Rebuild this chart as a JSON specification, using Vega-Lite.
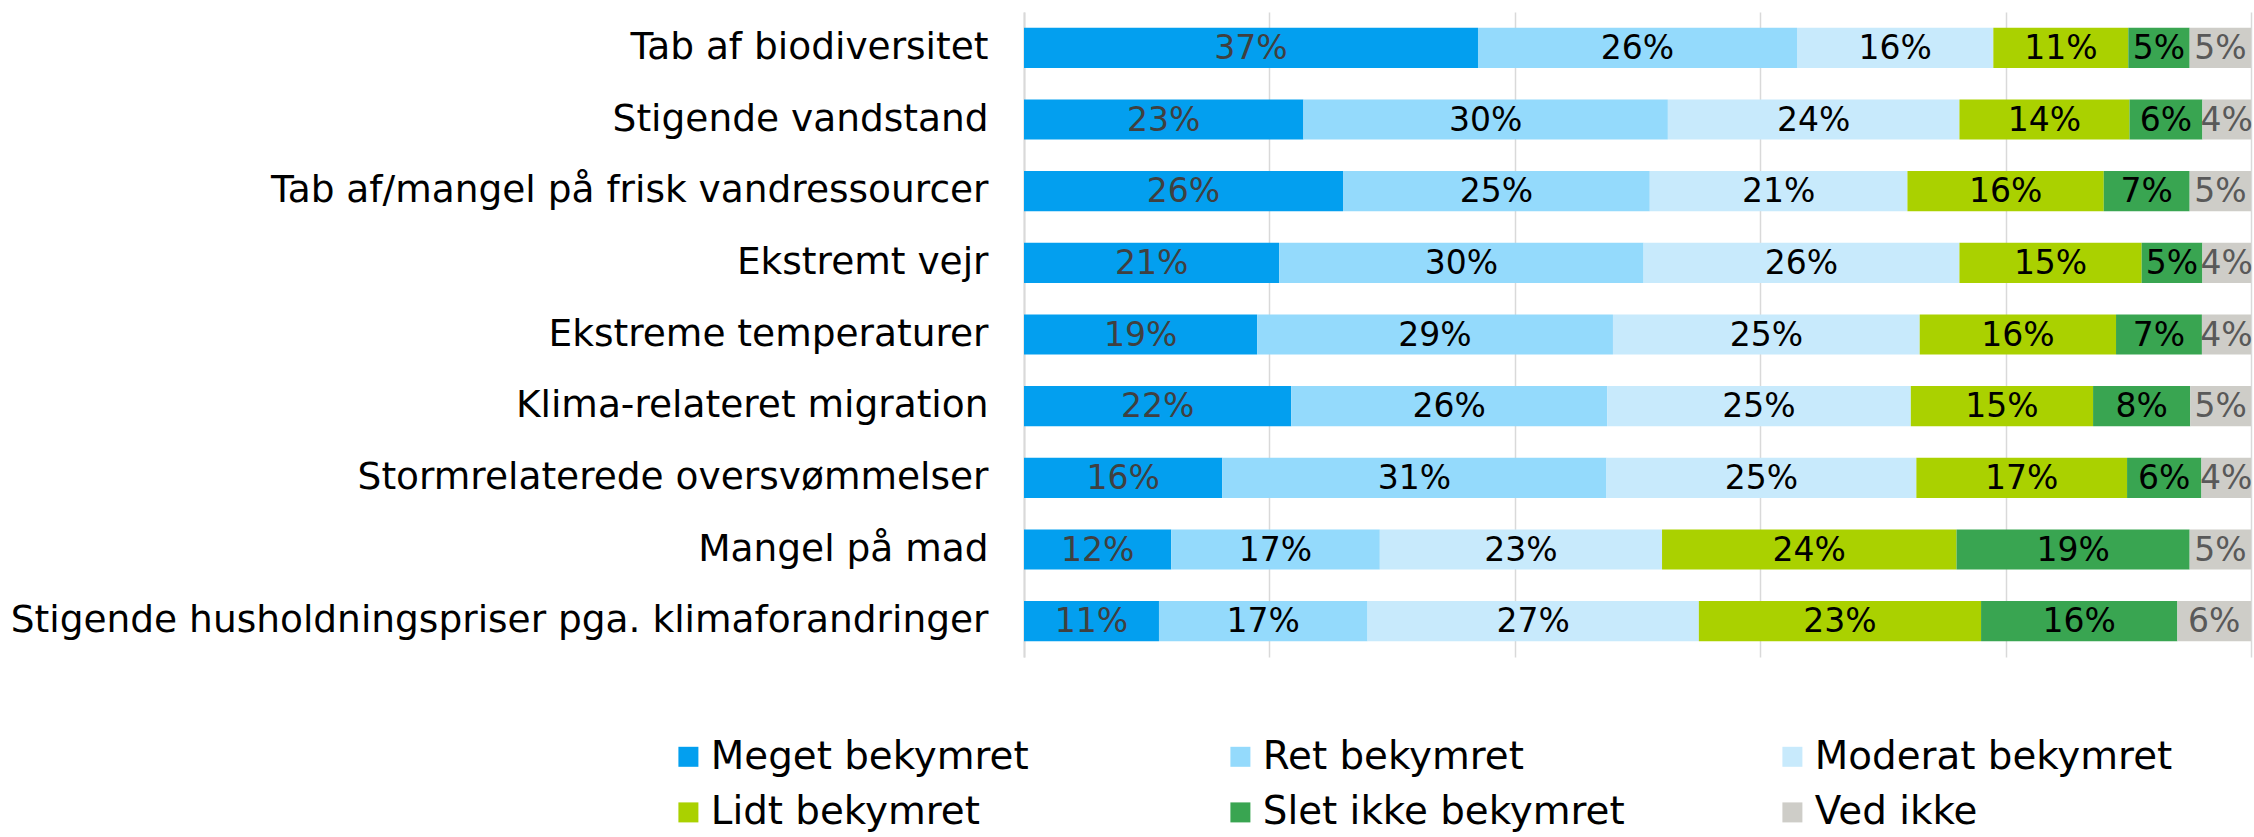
{
  "$schema": "https://vega.github.io/schema/vega-lite/v6.json",
  "autosize": {"type": "none"},
  "padding": {"left": 1024, "top": 12, "right": 3, "bottom": 180},
  "width": 1227,
  "height": 645,
  "config": {
    "view": {"stroke": null},
    "font": "DejaVu Sans"
  },
  "data": {
    "values": [
      {"item": "Tab af biodiversitet", "cat": "Meget bekymret", "v": 37},
      {"item": "Tab af biodiversitet", "cat": "Ret bekymret", "v": 26},
      {"item": "Tab af biodiversitet", "cat": "Moderat bekymret", "v": 16},
      {"item": "Tab af biodiversitet", "cat": "Lidt bekymret", "v": 11},
      {"item": "Tab af biodiversitet", "cat": "Slet ikke bekymret", "v": 5},
      {"item": "Tab af biodiversitet", "cat": "Ved ikke", "v": 5},
      {"item": "Stigende vandstand", "cat": "Meget bekymret", "v": 23},
      {"item": "Stigende vandstand", "cat": "Ret bekymret", "v": 30},
      {"item": "Stigende vandstand", "cat": "Moderat bekymret", "v": 24},
      {"item": "Stigende vandstand", "cat": "Lidt bekymret", "v": 14},
      {"item": "Stigende vandstand", "cat": "Slet ikke bekymret", "v": 6},
      {"item": "Stigende vandstand", "cat": "Ved ikke", "v": 4},
      {"item": "Tab af/mangel på frisk vandressourcer", "cat": "Meget bekymret", "v": 26},
      {"item": "Tab af/mangel på frisk vandressourcer", "cat": "Ret bekymret", "v": 25},
      {"item": "Tab af/mangel på frisk vandressourcer", "cat": "Moderat bekymret", "v": 21},
      {"item": "Tab af/mangel på frisk vandressourcer", "cat": "Lidt bekymret", "v": 16},
      {"item": "Tab af/mangel på frisk vandressourcer", "cat": "Slet ikke bekymret", "v": 7},
      {"item": "Tab af/mangel på frisk vandressourcer", "cat": "Ved ikke", "v": 5},
      {"item": "Ekstremt vejr", "cat": "Meget bekymret", "v": 21},
      {"item": "Ekstremt vejr", "cat": "Ret bekymret", "v": 30},
      {"item": "Ekstremt vejr", "cat": "Moderat bekymret", "v": 26},
      {"item": "Ekstremt vejr", "cat": "Lidt bekymret", "v": 15},
      {"item": "Ekstremt vejr", "cat": "Slet ikke bekymret", "v": 5},
      {"item": "Ekstremt vejr", "cat": "Ved ikke", "v": 4},
      {"item": "Ekstreme temperaturer", "cat": "Meget bekymret", "v": 19},
      {"item": "Ekstreme temperaturer", "cat": "Ret bekymret", "v": 29},
      {"item": "Ekstreme temperaturer", "cat": "Moderat bekymret", "v": 25},
      {"item": "Ekstreme temperaturer", "cat": "Lidt bekymret", "v": 16},
      {"item": "Ekstreme temperaturer", "cat": "Slet ikke bekymret", "v": 7},
      {"item": "Ekstreme temperaturer", "cat": "Ved ikke", "v": 4},
      {"item": "Klima-relateret migration", "cat": "Meget bekymret", "v": 22},
      {"item": "Klima-relateret migration", "cat": "Ret bekymret", "v": 26},
      {"item": "Klima-relateret migration", "cat": "Moderat bekymret", "v": 25},
      {"item": "Klima-relateret migration", "cat": "Lidt bekymret", "v": 15},
      {"item": "Klima-relateret migration", "cat": "Slet ikke bekymret", "v": 8},
      {"item": "Klima-relateret migration", "cat": "Ved ikke", "v": 5},
      {"item": "Stormrelaterede oversvømmelser", "cat": "Meget bekymret", "v": 16},
      {"item": "Stormrelaterede oversvømmelser", "cat": "Ret bekymret", "v": 31},
      {"item": "Stormrelaterede oversvømmelser", "cat": "Moderat bekymret", "v": 25},
      {"item": "Stormrelaterede oversvømmelser", "cat": "Lidt bekymret", "v": 17},
      {"item": "Stormrelaterede oversvømmelser", "cat": "Slet ikke bekymret", "v": 6},
      {"item": "Stormrelaterede oversvømmelser", "cat": "Ved ikke", "v": 4},
      {"item": "Mangel på mad", "cat": "Meget bekymret", "v": 12},
      {"item": "Mangel på mad", "cat": "Ret bekymret", "v": 17},
      {"item": "Mangel på mad", "cat": "Moderat bekymret", "v": 23},
      {"item": "Mangel på mad", "cat": "Lidt bekymret", "v": 24},
      {"item": "Mangel på mad", "cat": "Slet ikke bekymret", "v": 19},
      {"item": "Mangel på mad", "cat": "Ved ikke", "v": 5},
      {"item": "Stigende husholdningspriser pga. klimaforandringer", "cat": "Meget bekymret", "v": 11},
      {"item": "Stigende husholdningspriser pga. klimaforandringer", "cat": "Ret bekymret", "v": 17},
      {"item": "Stigende husholdningspriser pga. klimaforandringer", "cat": "Moderat bekymret", "v": 27},
      {"item": "Stigende husholdningspriser pga. klimaforandringer", "cat": "Lidt bekymret", "v": 23},
      {"item": "Stigende husholdningspriser pga. klimaforandringer", "cat": "Slet ikke bekymret", "v": 16},
      {"item": "Stigende husholdningspriser pga. klimaforandringer", "cat": "Ved ikke", "v": 6}
    ]
  },
  "transform": [
    {"calculate": "indexof(['Meget bekymret','Ret bekymret','Moderat bekymret','Lidt bekymret','Slet ikke bekymret','Ved ikke'], datum.cat)", "as": "ord"},
    {"stack": "v", "groupby": ["item"], "sort": [{"field": "ord", "order": "ascending"}], "as": ["x0", "x1"], "offset": "normalize"},
    {"calculate": "(datum.x0 + datum.x1) / 2", "as": "mid"},
    {"calculate": "datum.v + '%'", "as": "label"}
  ],
  "encoding": {
    "y": {
      "field": "item",
      "type": "nominal",
      "sort": ["Tab af biodiversitet", "Stigende vandstand", "Tab af/mangel på frisk vandressourcer", "Ekstremt vejr", "Ekstreme temperaturer", "Klima-relateret migration", "Stormrelaterede oversvømmelser", "Mangel på mad", "Stigende husholdningspriser pga. klimaforandringer"],
      "scale": {"paddingInner": 0.44, "paddingOuter": 0.22},
      "axis": {
        "title": null,
        "labelFont": "DejaVu Sans",
        "labelFontSize": 37.5,
        "labelColor": "#000000",
        "labelPadding": 36,
        "labelLimit": 1200,
        "ticks": false,
        "domain": true,
        "domainColor": "#d9d9d9",
        "domainWidth": 2
      }
    }
  },
  "layer": [
    {
      "mark": {"type": "bar"},
      "encoding": {
        "x": {
          "field": "x0",
          "type": "quantitative",
          "scale": {"domain": [0, 1], "nice": false, "zero": false},
          "axis": {
            "title": null,
            "values": [0, 0.2, 0.4, 0.6, 0.8, 1],
            "labels": false,
            "ticks": false,
            "domain": false,
            "grid": true,
            "gridColor": "#d9d9d9",
            "gridWidth": 1.5
          }
        },
        "x2": {"field": "x1"},
        "color": {
          "field": "cat",
          "type": "nominal",
          "scale": {
            "domain": ["Meget bekymret", "Ret bekymret", "Moderat bekymret", "Lidt bekymret", "Slet ikke bekymret", "Ved ikke"],
            "range": ["#039fef", "#94dafc", "#c8eafc", "#aad100", "#39a551", "#cecdc8"]
          },
          "legend": {
            "title": null,
            "orient": "none",
            "legendX": -355,
            "legendY": 725,
            "direction": "horizontal",
            "columns": 3,
            "gridAlign": "all",
            "columnPadding": 148,
            "rowPadding": 16,
            "symbolType": "square",
            "symbolSize": 400,
            "symbolStrokeWidth": 0,
            "symbolOpacity": 1,
            "labelFont": "DejaVu Sans",
            "labelFontSize": 38.8,
            "labelColor": "#000000",
            "labelOffset": 3,
            "labelLimit": 600
          }
        }
      }
    },
    {
      "mark": {"type": "text", "font": "DejaVu Sans", "fontSize": 33, "align": "center", "baseline": "middle", "dy": 1},
      "encoding": {
        "x": {"field": "mid", "type": "quantitative"},
        "text": {"field": "label", "type": "nominal"},
        "color": {
          "condition": [
            {"test": "datum.cat === 'Meget bekymret'", "value": "#404040"},
            {"test": "datum.cat === 'Ved ikke'", "value": "#595959"}
          ],
          "value": "#000000"
        }
      }
    }
  ]
}
